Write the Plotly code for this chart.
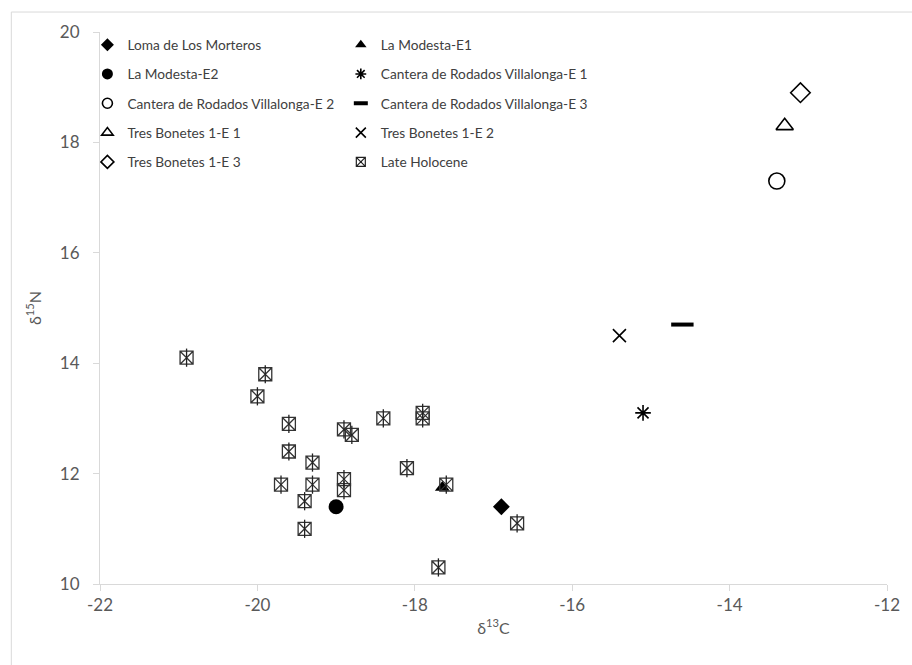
import plotly.graph_objects as go

# Stable isotope values (delta 13C, delta 15N) per site / individual
loma_x, loma_y = [-16.9], [11.4]
lm_e1_x, lm_e1_y = [-17.65], [11.75]
lm_e2_x, lm_e2_y = [-19.0], [11.4]
crv_e1_x, crv_e1_y = [-15.1], [13.1]
crv_e2_x, crv_e2_y = [-13.4], [17.3]
crv_e3_x, crv_e3_y = [-14.6], [14.7]
tb_e1_x, tb_e1_y = [-13.3], [18.3]
tb_e2_x, tb_e2_y = [-15.4], [14.5]
tb_e3_x, tb_e3_y = [-13.1], [18.9]

late_holocene_x = [-20.9, -19.9, -20.0, -19.6, -19.6, -19.3, -19.7, -19.3, -19.4, -19.4,
                   -18.9, -18.8, -18.9, -18.9, -18.4, -17.9, -17.9, -18.1, -17.6, -16.7, -17.7]
late_holocene_y = [14.1, 13.8, 13.4, 12.9, 12.4, 12.2, 11.8, 11.8, 11.5, 11.0,
                   12.8, 12.7, 11.9, 11.7, 13.0, 13.1, 13.0, 12.1, 11.8, 11.1, 10.3]

x_ticks = [-22, -20, -18, -16, -14, -12]
y_ticks = [10, 12, 14, 16, 18, 20]

FONT = "Lato"
INK = "#000000"
AXIS_GREY = "#d9d9d9"
LABEL_GREY = "#595959"

fig = go.Figure()

# (name, x, y, symbol, plot size, legend size, line width, legend id)
series = [
    ("Loma de Los Morteros", loma_x, loma_y, "diamond", 13, 10, 0, "legend"),
    ("La Modesta-E1", lm_e1_x, lm_e1_y, "triangle-up", 13, 10, 0, "legend2"),
    ("La Modesta-E2", lm_e2_x, lm_e2_y, "circle", 15, 11, 0, "legend"),
    ("Cantera de Rodados Villalonga-E 1", crv_e1_x, crv_e1_y, "asterisk-open", 13, 9, 1.6, "legend2"),
    ("Cantera de Rodados Villalonga-E 2", crv_e2_x, crv_e2_y, "circle-open", 16, 10, 1.6, "legend"),
    ("Cantera de Rodados Villalonga-E 3", crv_e3_x, crv_e3_y, "line-ew-open", 16, 10, 4, "legend2"),
    ("Tres Bonetes 1-E 1", tb_e1_x, tb_e1_y, "triangle-up-open", 15, 10, 1.6, "legend"),
    ("Tres Bonetes 1-E 2", tb_e2_x, tb_e2_y, "x-thin-open", 13, 10, 1.6, "legend2"),
    ("Tres Bonetes 1-E 3", tb_e3_x, tb_e3_y, "diamond-open", 15, 10, 1.6, "legend"),
]

for i, (name, xs, ys, sym, size, lsize, lw, leg) in enumerate(series):
    fig.add_trace(go.Scatter(
        x=xs, y=ys, mode="markers", name=name, showlegend=False,
        marker=dict(symbol=sym, size=size, color=INK, line=dict(color=INK, width=lw)),
    ))
    fig.add_trace(go.Scatter(
        x=[None], y=[None], mode="markers", name=name, legend=leg, legendgroup=f"g{i}",
        marker=dict(symbol=sym, size=lsize, color=INK, line=dict(color=INK, width=max(lw, 1) if lw else 0)),
    ))

# Late Holocene: boxed asterisk (square with X plus vertical stroke)
fig.add_trace(go.Scatter(
    x=late_holocene_x, y=late_holocene_y, mode="markers", showlegend=False,
    marker=dict(symbol="square-x-open", size=13, color="#333333", line=dict(color="#333333", width=1.3)),
))
fig.add_trace(go.Scatter(
    x=late_holocene_x, y=late_holocene_y, mode="markers", showlegend=False,
    marker=dict(symbol="line-ns-open", size=13, color="#222222", line=dict(color="#222222", width=1.3)),
))
fig.add_trace(go.Scatter(
    x=[None], y=[None], mode="markers", name="Late Holocene", legend="legend2", legendgroup="late",
    marker=dict(symbol="square-x-open", size=9, color="#222222", line=dict(color="#222222", width=1.2)),
))

legend_style = dict(
    font=dict(family=FONT, size=13.7, color="#404040"),
    bgcolor="rgba(0,0,0,0)", borderwidth=0,
    yanchor="top", xanchor="left", tracegroupgap=8.5, itemwidth=30,
)

fig.update_layout(
    width=912, height=665,
    margin=dict(l=100, r=22, t=32, b=81),
    paper_bgcolor="white", plot_bgcolor="white",
    font=dict(family=FONT, color=LABEL_GREY),
    legend=dict(x=-0.016, y=1.005, **legend_style),
    legend2=dict(x=0.306, y=1.005, **legend_style),
    xaxis=dict(
        range=[-22, -12], tickvals=x_ticks, ticktext=[str(v) for v in x_ticks],
        showgrid=False, zeroline=False, showline=True, linecolor=AXIS_GREY, linewidth=1,
        ticks="outside", ticklen=6, tickcolor=AXIS_GREY,
        tickfont=dict(family=FONT, size=17, color=LABEL_GREY),
        title=dict(text="\u03b4<sup>13</sup>C", font=dict(family=FONT, size=16, color=LABEL_GREY), standoff=8),
    ),
    yaxis=dict(
        range=[10, 20], tickvals=y_ticks, ticktext=[str(v) for v in y_ticks],
        showgrid=False, zeroline=False, showline=True, linecolor=AXIS_GREY, linewidth=1,
        ticks="outside", ticklen=6, tickcolor=AXIS_GREY, ticklabelstandoff=10,
        tickfont=dict(family=FONT, size=17, color=LABEL_GREY),
        title=dict(text="\u03b4<sup>15</sup>N", font=dict(family=FONT, size=16, color=LABEL_GREY), standoff=14),
    ),
    shapes=[dict(
        type="rect", xref="paper", yref="paper",
        x0=-0.1127, x1=1.04, y0=-0.16, y1=1.0362,
        line=dict(color=AXIS_GREY, width=1), fillcolor="rgba(0,0,0,0)", layer="below",
    )],
)

fig.write_html("out.html")
